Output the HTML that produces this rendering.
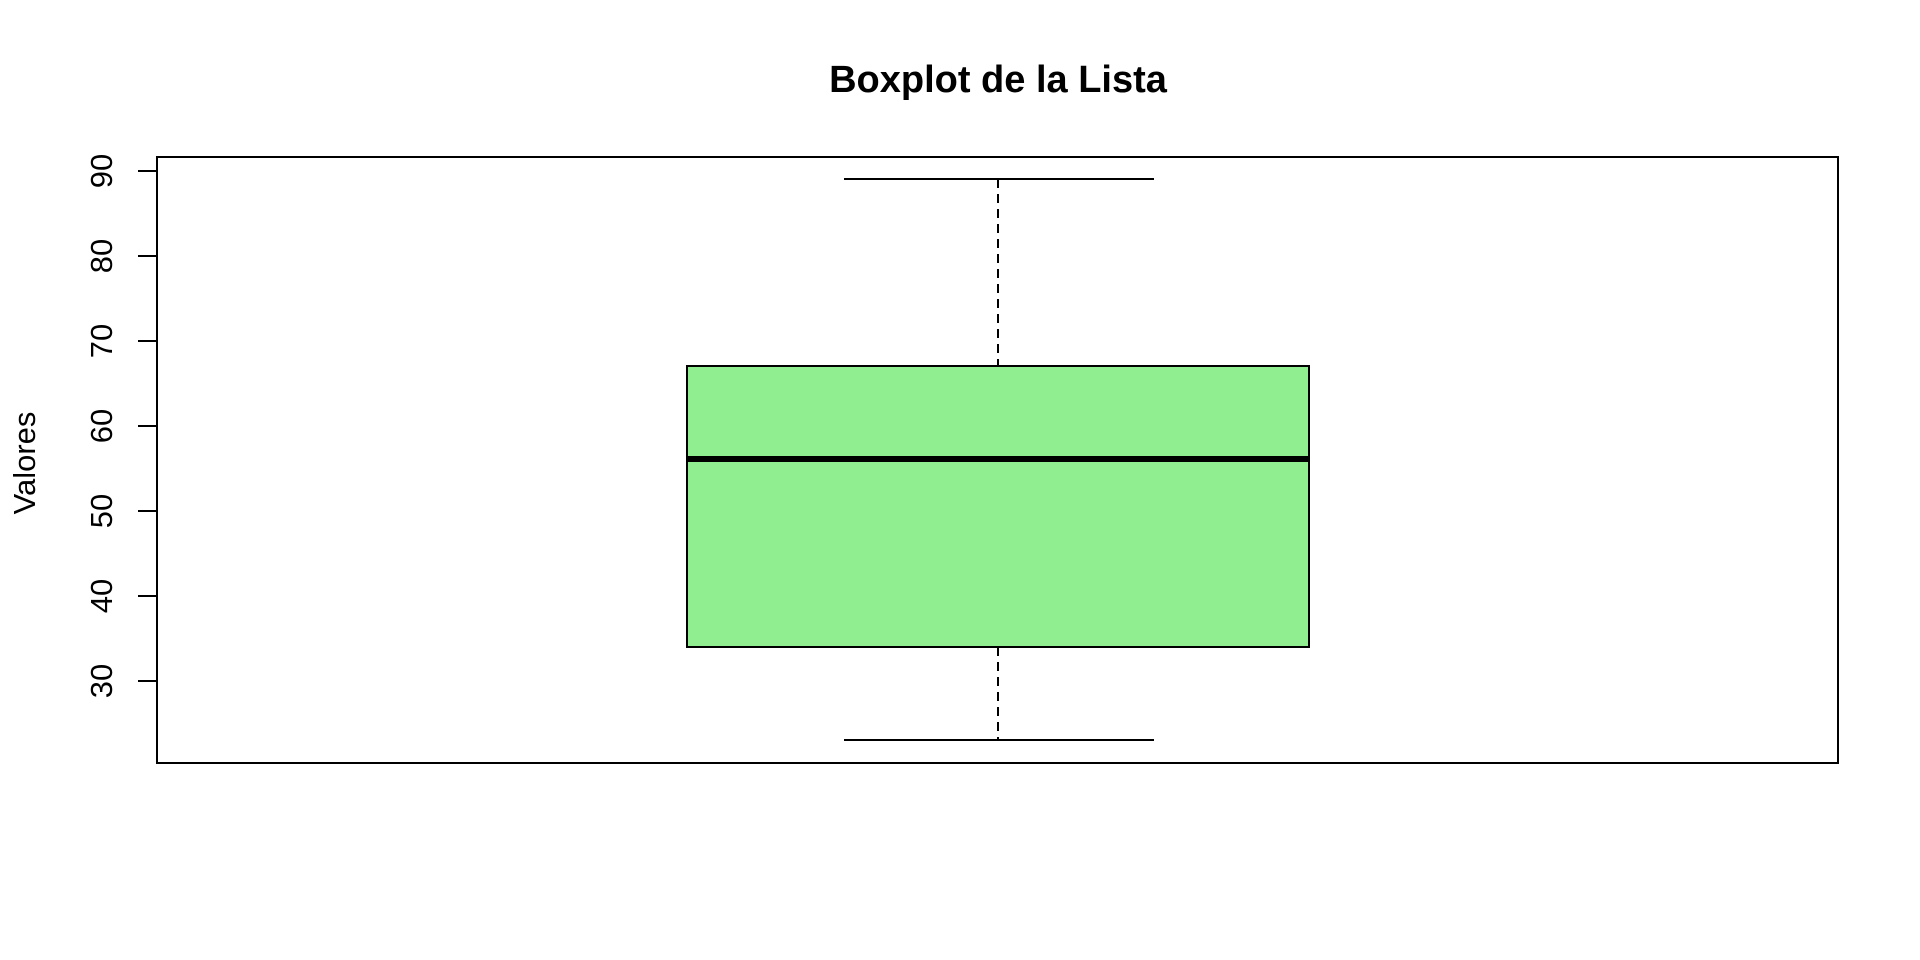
<!DOCTYPE html>
<html><head><meta charset="utf-8"><style>html,body{margin:0;padding:0;background:#fff}svg{display:block}</style></head>
<body>
<svg width="1920" height="960" viewBox="0 0 1920 960" xmlns="http://www.w3.org/2000/svg" font-family="Liberation Sans, Arial, sans-serif">
<rect width="1920" height="960" fill="#fff"/>
<text x="998" y="92" text-anchor="middle" font-size="38" font-weight="bold">Boxplot de la Lista</text>
<rect x="157" y="157" width="1681" height="606" fill="none" stroke="#000" stroke-width="2"/>
<g stroke="#000" stroke-width="2">
<line x1="138" y1="171" x2="157" y2="171"/>
<line x1="138" y1="256" x2="157" y2="256"/>
<line x1="138" y1="341" x2="157" y2="341"/>
<line x1="138" y1="426" x2="157" y2="426"/>
<line x1="138" y1="511" x2="157" y2="511"/>
<line x1="138" y1="596" x2="157" y2="596"/>
<line x1="138" y1="681" x2="157" y2="681"/>
</g>
<g font-size="31" text-anchor="middle">
<text transform="translate(112,171) rotate(-90)">90</text>
<text transform="translate(112,256) rotate(-90)">80</text>
<text transform="translate(112,341) rotate(-90)">70</text>
<text transform="translate(112,426) rotate(-90)">60</text>
<text transform="translate(112,511) rotate(-90)">50</text>
<text transform="translate(112,596) rotate(-90)">40</text>
<text transform="translate(112,681) rotate(-90)">30</text>
<text transform="translate(35,463) rotate(-90)" font-size="31">Valores</text>
</g>
<line x1="998" y1="179" x2="998" y2="366" stroke="#000" stroke-width="2" stroke-dasharray="9,6"/>
<line x1="998" y1="647" x2="998" y2="740" stroke="#000" stroke-width="2" stroke-dasharray="9,6"/>
<line x1="844" y1="179" x2="1154" y2="179" stroke="#000" stroke-width="2"/>
<line x1="844" y1="740" x2="1154" y2="740" stroke="#000" stroke-width="2"/>
<rect x="687" y="366" width="622" height="281" fill="#90ee90" stroke="#000" stroke-width="2"/>
<line x1="687" y1="459" x2="1309" y2="459" stroke="#000" stroke-width="6"/>
</svg>
</body></html>
